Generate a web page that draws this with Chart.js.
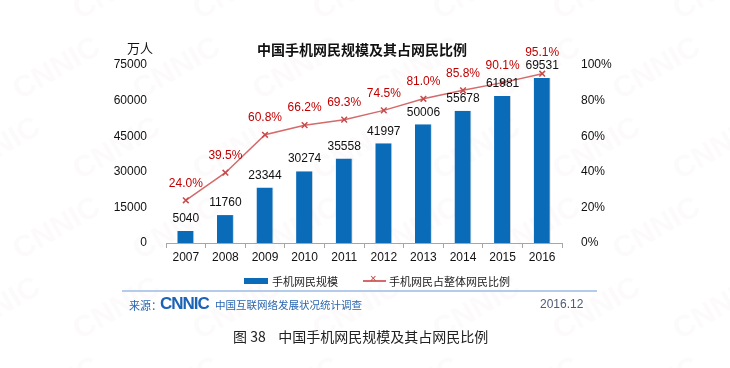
<!DOCTYPE html>
<html>
<head>
<meta charset="utf-8">
<script src="https://cdn.jsdelivr.net/npm/chart.js"></script>
<style>
  body { margin: 0; background: #fff; }
  #wrap { position: relative; width: 730px; height: 368px; overflow: hidden; font-family: Arial, "Liberation Sans", "Noto Sans CJK SC", sans-serif; }
  #wrap canvas { position: absolute; left: 0; top: 0; }
  .txt { position: absolute; white-space: nowrap; }
</style>
</head>
<body>
<div id="wrap">
  <canvas id="mainChart" width="730" height="368"></canvas>
  <div class="txt" style="left:0;width:724px;top:39px;text-align:center;font:bold 14px 'Noto Sans CJK SC',sans-serif;color:#111;">中国手机网民规模及其占网民比例</div>
  <div class="txt" style="left:127px;top:38px;font:13px 'Noto Sans CJK SC',sans-serif;color:#111;">万人</div>

  <div class="txt" style="left:244px;top:278px;width:24px;height:6px;background:#0a6bb8;"></div>
  <div class="txt" style="left:272px;top:273px;font:11px 'Noto Sans CJK SC',sans-serif;color:#222;">手机网民规模</div>
  <div class="txt" style="left:363px;top:280px;width:23px;height:2px;background:#d46a6a;"></div>
  <div class="txt" style="left:370px;top:272px;font:11px Arial,sans-serif;color:#c33;">×</div>
  <div class="txt" style="left:389px;top:273px;font:11px 'Noto Sans CJK SC',sans-serif;color:#222;">手机网民占整体网民比例</div>

  <div class="txt" style="left:122px;top:290px;width:475px;height:2px;background:#b4cbe9;"></div>
  <div class="txt" style="left:129px;top:297px;font:11px 'Noto Sans CJK SC',sans-serif;color:#2a66b0;">来源：</div>
  <div class="txt" style="left:160px;top:294px;font:bold 17px Arial,sans-serif;letter-spacing:-1px;color:#1a63b5;">CNNIC</div>
  <div class="txt" style="left:215px;top:297px;font:10.5px 'Noto Sans CJK SC',sans-serif;color:#2a66b0;">中国互联网络发展状况统计调查</div>
  <div class="txt" style="left:540px;top:297px;font:12px Arial,sans-serif;color:#4d5c78;">2016.12</div>

  <div class="txt" style="left:233px;top:326px;font:14px 'Noto Sans CJK SC',sans-serif;color:#222;">图 38&nbsp;&nbsp;&nbsp;&nbsp;中国手机网民规模及其占网民比例</div>
</div>
<script>
var years = ['2007', '2008', '2009', '2010', '2011', '2012', '2013', '2014', '2015', '2016'];
var mobileUsers = [5040, 11760, 23344, 30274, 35558, 41997, 50006, 55678, 61981, 69531];
var mobileShare = [24.0, 39.5, 60.8, 66.2, 69.3, 74.5, 81.0, 85.8, 90.1, 95.1];
var leftTicks = [0, 15000, 30000, 45000, 60000, 75000];
var rightTicks = [0, 20, 40, 60, 80, 100];

// faint diagonal watermark behind everything
var watermark = {
  id: 'watermark',
  beforeDraw: function(chart) {
    var ctx = chart.ctx;
    ctx.save();
    ctx.font = 'bold 30px Arial';
    ctx.fillStyle = 'rgba(210,170,170,0.06)';
    for (var row = 0; row < 6; row++) {
      for (var col = 0; col < 8; col++) {
        var x = col * 120 - 40 + (row % 2) * 60;
        var y = row * 80 + 20;
        ctx.save();
        ctx.translate(x, y);
        ctx.rotate(-Math.PI / 6);
        ctx.fillText('CNNIC', 0, 0);
        ctx.restore();
      }
    }
    ctx.restore();
  }
};

// value labels above bars and points
var valueLabels = {
  id: 'valueLabels',
  afterDatasetsDraw: function(chart) {
    var ctx = chart.ctx;
    ctx.save();
    ctx.textAlign = 'center';
    ctx.textBaseline = 'middle';
    ctx.font = '12px Arial';
    ctx.fillStyle = '#111';
    chart.getDatasetMeta(0).data.forEach(function(bar, i) {
      ctx.fillText(mobileUsers[i], bar.x, bar.y - 12);
    });
    ctx.fillStyle = '#c00000';
    chart.getDatasetMeta(1).data.forEach(function(pt, i) {
      var off = i == 9 ? 21 : 17;
      ctx.fillText(mobileShare[i].toFixed(1) + '%', pt.x, pt.y - off);
    });
    ctx.restore();
  }
};

var ctx = document.getElementById('mainChart');
var chart = new Chart(ctx, {
  type: 'bar',
  data: {
    labels: years,
    datasets: [{
      type: 'bar',
      label: '手机网民规模',
      data: mobileUsers,
      yAxisID: 'y',
      backgroundColor: '#0a6bb8',
      borderColor: 'rgba(150,150,150,0.35)',
      borderWidth: { top: 0, left: 0, right: 1, bottom: 0 },
      barPercentage: 0.43,
      categoryPercentage: 1,
      order: 2
    }, {
      type: 'line',
      label: '手机网民占整体网民比例',
      data: mobileShare,
      yAxisID: 'y1',
      borderColor: '#d46a6a',
      borderWidth: 1.5,
      pointStyle: 'crossRot',
      pointRadius: 4,
      pointBorderColor: '#c94a4a',
      pointBorderWidth: 1.5,
      tension: 0,
      order: 1
    }]
  },
  options: {
    responsive: false,
    devicePixelRatio: 1,
    animation: false,
    layout: { padding: { left: 0, right: 0, top: 65, bottom: 95 } },
    plugins: {
      legend: { display: false },
      title: { display: false },
      tooltip: { enabled: false }
    },
    scales: {
      x: {
        offset: true,
        grid: { display: true, drawOnChartArea: false, drawTicks: true, tickLength: 5, color: '#a6a6a6', offset: true },
        border: { display: true, color: '#a6a6a6', width: 1 },
        ticks: { color: '#111', font: { size: 12, family: 'Arial' }, padding: 2, maxRotation: 0 },
        afterFit: function(s) { s.height = 30; }
      },
      y: {
        position: 'left',
        min: 0,
        max: 75000,
        afterBuildTicks: function(s) { s.ticks = leftTicks.map(function(v) { return { value: v }; }); },
        grid: { display: false },
        border: { display: false },
        ticks: { color: '#111', font: { size: 12, family: 'Arial' }, padding: 11, callback: function(v) { return String(v); } },
        afterFit: function(s) { s.width = 166; }
      },
      y1: {
        position: 'right',
        min: 0,
        max: 100,
        afterBuildTicks: function(s) { s.ticks = rightTicks.map(function(v) { return { value: v }; }); },
        grid: { display: false },
        border: { display: false },
        ticks: { color: '#111', font: { size: 12, family: 'Arial' }, padding: 11, callback: function(v) { return v + '%'; } },
        afterFit: function(s) { s.width = 168; }
      }
    }
  },
  plugins: [watermark, valueLabels]
});
</script>
</body>
</html>
